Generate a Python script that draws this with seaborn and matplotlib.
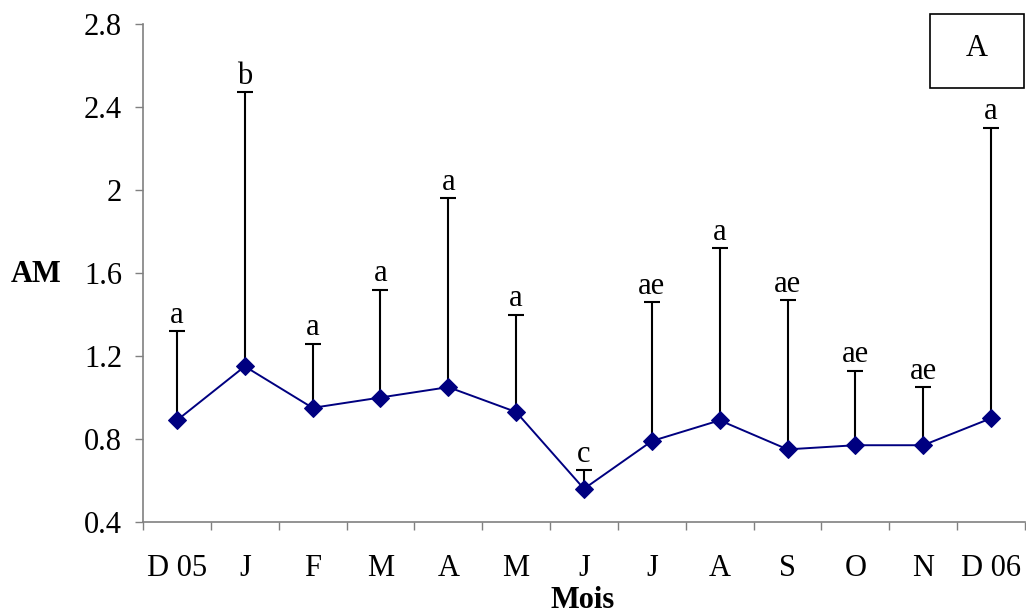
import numpy as np
import pandas as pd
import seaborn as sns
import matplotlib
matplotlib.use("Agg")
import matplotlib.pyplot as plt
from matplotlib.patches import Rectangle

# Monthly AM values (mean and upper limit of the error bar) with group letters
months = ["D 05", "J", "F", "M", "A", "M", "J", "J", "A", "S", "O", "N", "D 06"]
am_mean = [0.89, 1.15, 0.95, 1.00, 1.05, 0.93, 0.56, 0.79, 0.89, 0.75, 0.77, 0.77, 0.90]
am_upper = [1.32, 2.47, 1.26, 1.52, 1.96, 1.40, 0.65, 1.46, 1.72, 1.47, 1.13, 1.05, 2.30]
letters = ["a", "b", "a", "a", "a", "a", "c", "ae", "a", "ae", "ae", "ae", "a"]

sns.set_theme(style="white")
plt.rcParams["font.family"] = ["Liberation Serif", "DejaVu Serif"]
plt.rcParams["text.color"] = "black"
plt.rcParams["xtick.color"] = "black"
plt.rcParams["ytick.color"] = "black"

FS = 22

df = pd.DataFrame({"pos": np.arange(len(months)), "AM": am_mean})

fig = plt.figure(figsize=(10.26, 6.15), dpi=100)
ax = fig.add_axes([143 / 1026, 1 - 522 / 615, 882 / 1026, (522 - 24) / 615])

# upper-only error bars
err_up = np.array(am_upper) - np.array(am_mean)
eb = ax.errorbar(df["pos"], df["AM"], yerr=[np.zeros(len(months)), err_up],
                 fmt="none", ecolor="black", elinewidth=1.5, capsize=5.5,
                 capthick=1.5, zorder=2)
eb[1][0].set_visible(False)

sns.lineplot(data=df, x="pos", y="AM", ax=ax, color="#000080", linewidth=1.4,
             marker="D", markersize=9, markeredgecolor="#000080", zorder=3)

for x, top, lab in zip(df["pos"], am_upper, letters):
    ax.annotate(lab, (x, top), xytext=(0, 1), textcoords="offset points",
                ha="center", va="bottom", fontsize=FS, color="black")

ax.set_xlim(-0.5, len(months) - 0.5)
ax.set_ylim(0.4, 2.8)
ax.set_yticks(np.arange(0.4, 2.81, 0.4))
ax.set_yticklabels(["0.4", "0.8", "1.2", "1.6", "2", "2.4", "2.8"])

# labels at category centres, tick marks on category boundaries
ax.set_xticks(np.arange(len(months)))
ax.set_xticklabels(months)
ax.set_xticks(np.arange(-0.5, len(months)), minor=True)
ax.tick_params(axis="x", which="major", length=0, pad=23, labelsize=FS,
               labelcolor="black")
ax.tick_params(axis="x", which="minor", length=6, width=1, color="#808080",
               direction="out", bottom=True)
ax.tick_params(axis="y", which="major", length=6, width=1, color="#808080",
               direction="out", left=True, pad=9, labelsize=FS,
               labelcolor="black")

for side in ["top", "right"]:
    ax.spines[side].set_visible(False)
for side in ["left", "bottom"]:
    ax.spines[side].set_color("#808080")
    ax.spines[side].set_linewidth(1.2)

ax.set_xlabel("Mois", fontsize=FS, fontweight="bold", color="black",
              va="center")
ax.xaxis.set_label_coords((583 - 143) / 882, (522 - 600) / 498)
ax.set_ylabel("AM", fontsize=FS, fontweight="bold", rotation=0, va="center",
              ha="center", color="black")
ax.yaxis.set_label_coords((36 - 143) / 882, (522 - 274) / 498)
ax.grid(False)

# panel tag in the upper right corner
fig.patches.append(Rectangle((930 / 1026, 1 - 88 / 615), 94 / 1026, 74 / 615,
                             transform=fig.transFigure, fill=False,
                             edgecolor="black", linewidth=1.2))
fig.text(977 / 1026, 1 - 49 / 615, "A", ha="center", va="center", fontsize=FS)

fig.savefig("out.png", dpi=100)
